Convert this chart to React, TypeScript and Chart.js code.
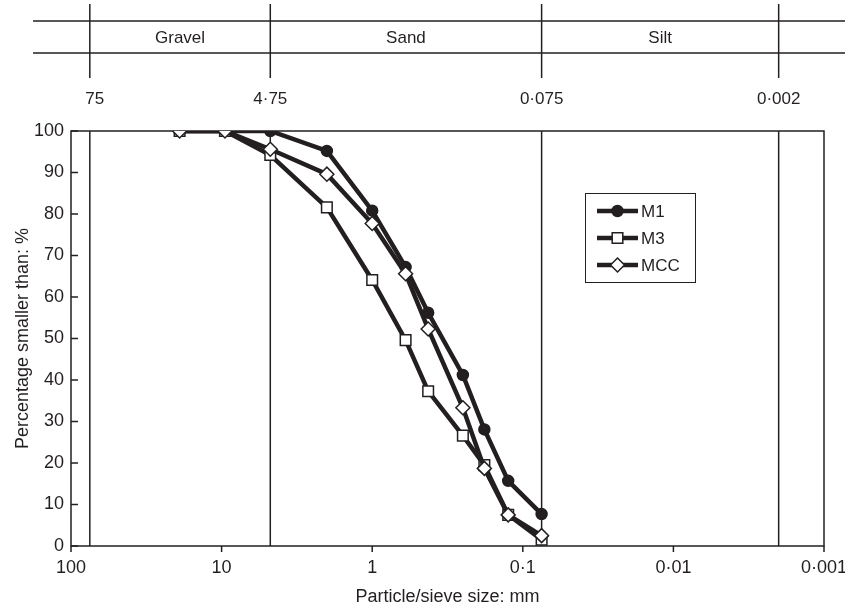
import React, { useEffect, useRef } from "react";
import { Chart, registerables } from "chart.js";

Chart.register(...registerables);

// ---- data ----
const sieveSizes = [19, 9.5, 4.75, 2, 1, 0.6, 0.425, 0.25, 0.18, 0.125, 0.075];
const m1Values = [100, 100, 100, 95.2, 80.8, 67.2, 56.2, 41.2, 28.1, 15.7, 7.7];
const m3Values = [100, 100, 94.2, 81.6, 64.1, 49.6, 37.3, 26.6, 19.5, 7.5, 1.5];
const mccValues = [100, 100, 95.6, 89.6, 77.7, 65.6, 52.3, 33.3, 18.7, 7.5, 2.5];

const xTickValues = [100, 10, 1, 0.1, 0.01, 0.001];
const xTickLabels = ["100", "10", "1", "0·1", "0·01", "0·001"];
const yTickValues = [0, 10, 20, 30, 40, 50, 60, 70, 80, 90, 100];

const boundarySizes = [75, 4.75, 0.075, 0.002];
const boundaryLabels = ["75", "4·75", "0·075", "0·002"];
const soilClasses = ["Gravel", "Sand", "Silt"];

const seriesNames = ["M1", "M3", "MCC"];

const FONT = '"Liberation Sans", Arial, Helvetica, sans-serif';
const INK = "#231f20";

function drawMarker(ctx: CanvasRenderingContext2D, style: string, x: number, y: number) {
  ctx.save();
  ctx.lineWidth = 1.5;
  ctx.strokeStyle = INK;
  ctx.beginPath();
  if (style === "circle") {
    ctx.fillStyle = INK;
    ctx.arc(x, y, 5.5, 0, Math.PI * 2);
  } else if (style === "rect") {
    ctx.fillStyle = "#fff";
    ctx.rect(x - 5.3, y - 5.3, 10.6, 10.6);
  } else {
    ctx.fillStyle = "#fff";
    const r = 7;
    ctx.moveTo(x - r, y);
    ctx.lineTo(x, y - r);
    ctx.lineTo(x + r, y);
    ctx.lineTo(x, y + r);
    ctx.closePath();
  }
  ctx.fill();
  ctx.stroke();
  ctx.restore();
}

const overlay = {
  id: "overlay",
  beforeDatasetsDraw(chart: any) {
    const { ctx, chartArea: a, scales } = chart;
    const x = scales.x;
    const y = scales.y;
    ctx.save();
    ctx.strokeStyle = INK;
    ctx.lineWidth = 1.5;
    for (const v of boundarySizes) {
      const px = x.getPixelForValue(v);
      ctx.beginPath();
      ctx.moveTo(px, a.top);
      ctx.lineTo(px, a.bottom);
      ctx.stroke();
    }
    ctx.strokeRect(a.left, a.top, a.right - a.left, a.bottom - a.top);
    for (const v of yTickValues) {
      const py = y.getPixelForValue(v);
      ctx.beginPath();
      ctx.moveTo(a.left, py);
      ctx.lineTo(a.left + 7, py);
      ctx.stroke();
    }
    for (const v of xTickValues) {
      const px = x.getPixelForValue(v);
      ctx.beginPath();
      ctx.moveTo(px, a.bottom);
      ctx.lineTo(px, a.bottom + 6);
      ctx.stroke();
    }
    ctx.restore();
  },
  afterDraw(chart: any) {
    const { ctx, scales } = chart;
    const x = scales.x;
    ctx.save();
    ctx.strokeStyle = INK;
    ctx.lineWidth = 1.5;
    // top classification band
    for (const yy of [21, 53]) {
      ctx.beginPath();
      ctx.moveTo(33, yy);
      ctx.lineTo(845, yy);
      ctx.stroke();
    }
    const bx = boundarySizes.map((v) => x.getPixelForValue(v));
    for (const px of bx) {
      ctx.beginPath();
      ctx.moveTo(px, 4);
      ctx.lineTo(px, 78);
      ctx.stroke();
    }
    ctx.fillStyle = INK;
    ctx.font = `17px ${FONT}`;
    ctx.textAlign = "center";
    ctx.textBaseline = "middle";
    soilClasses.forEach((name, i) => {
      ctx.fillText(name, (bx[i] + bx[i + 1]) / 2, 38);
    });
    boundaryLabels.forEach((lab, i) => {
      ctx.fillText(lab, bx[i] + (i === 0 ? 5 : 0), 99);
    });
    // legend
    ctx.lineWidth = 1;
    ctx.strokeRect(585.5, 193.5, 110, 89);
    const styles = ["circle", "rect", "rectRot"];
    const rows = [211, 238, 265];
    ctx.textAlign = "left";
    seriesNames.forEach((name, i) => {
      const yy = rows[i];
      ctx.save();
      ctx.lineWidth = 4.5;
      ctx.beginPath();
      ctx.moveTo(597, yy);
      ctx.lineTo(638, yy);
      ctx.stroke();
      ctx.restore();
      drawMarker(ctx, styles[i], 617.5, yy);
      ctx.fillStyle = INK;
      ctx.font = `17px ${FONT}`;
      ctx.fillText(name, 641, yy + 1);
    });
    ctx.restore();
  },
};

function toPoints(vals: number[]) {
  return sieveSizes.map((s, i) => ({ x: s, y: vals[i] }));
}

export default function App() {
  const ref = useRef<HTMLCanvasElement | null>(null);
  useEffect(() => {
    if (!ref.current) return;
    Chart.defaults.font.family = FONT;
    Chart.defaults.color = INK;
    const common = {
      showLine: true,
      borderColor: INK,
      borderWidth: 4.5,
      pointBorderColor: INK,
      pointBorderWidth: 1.5,
      pointHoverRadius: 6,
      tension: 0,
    };
    const chart = new Chart(ref.current, {
      type: "scatter",
      data: {
        datasets: [
          {
            ...common,
            label: seriesNames[0],
            data: toPoints(m1Values),
            pointStyle: "circle",
            pointRadius: 5.5,
            pointBackgroundColor: INK,
            order: 2,
          },
          {
            ...common,
            label: seriesNames[1],
            data: toPoints(m3Values),
            pointStyle: "rect",
            pointRadius: 7.5,
            pointBackgroundColor: "#fff",
            order: 1,
          },
          {
            ...common,
            label: seriesNames[2],
            data: toPoints(mccValues),
            pointStyle: "rectRot",
            pointRadius: 7,
            pointBackgroundColor: "#fff",
            order: 0,
          },
        ],
      } as any,
      options: {
        animation: false,
        responsive: true,
        maintainAspectRatio: false,
        layout: { padding: { top: 131, right: 0, bottom: 0, left: 0 } },
        plugins: { legend: { display: false }, tooltip: { enabled: false } },
        scales: {
          x: {
            type: "logarithmic",
            reverse: true,
            min: 0.001,
            max: 100,
            afterBuildTicks: (s: any) => {
              s.ticks = xTickValues.map((v) => ({ value: v }));
            },
            ticks: {
              autoSkip: false,
              maxRotation: 0,
              padding: 11,
              color: INK,
              font: { size: 18 },
              callback: (v: any) => {
                const i = xTickValues.findIndex(
                  (t) => Math.abs(Math.log10(t) - Math.log10(Number(v))) < 1e-6
                );
                return i >= 0 ? xTickLabels[i] : "";
              },
            },
            grid: { display: false, drawTicks: false },
            border: { display: false },
            title: {
              display: true,
              text: "Particle/sieve size: mm",
              color: INK,
              font: { size: 18 },
              padding: { top: 0, bottom: 1 },
            },
            afterFit: (s: any) => {
              s.height = 63;
              s.paddingLeft = 0;
              s.paddingRight = 21;
            },
          },
          y: {
            type: "linear",
            min: 0,
            max: 100,
            afterBuildTicks: (s: any) => {
              s.ticks = yTickValues.map((v) => ({ value: v }));
            },
            ticks: { padding: 7, color: INK, font: { size: 18 } },
            grid: { display: false, drawTicks: false },
            border: { display: false },
            title: {
              display: true,
              text: "Percentage smaller than: %",
              color: INK,
              font: { size: 18 },
              padding: { top: 12, bottom: 0 },
            },
            afterFit: (s: any) => {
              s.width = 71;
            },
          },
        },
      } as any,
      plugins: [overlay],
    });
    return () => chart.destroy();
  }, []);
  return (
    <div style={{ position: "fixed", left: 0, top: 0, width: 845, height: 609, background: "#fff" }}>
      <canvas ref={ref} />
    </div>
  );
}
